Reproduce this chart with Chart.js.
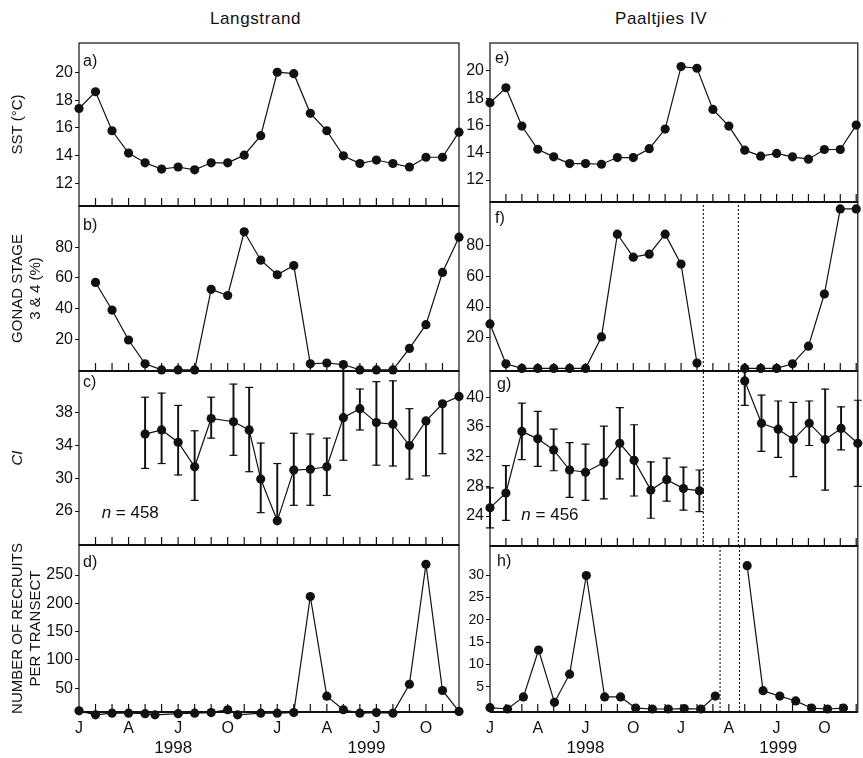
<!DOCTYPE html>
<html>
<head>
<meta charset="utf-8">
<script src="https://cdn.jsdelivr.net/npm/chart.js@4.4.1/dist/chart.umd.min.js"></script>
<style>
  body { margin: 0; background: #fff; width: 863px; height: 758px; overflow: hidden; position: relative;
         font-family: "Liberation Sans", Arial, Helvetica, sans-serif; color: #111; }
  .col-title { position: absolute; top: 9px; font-size: 17px; letter-spacing: 0.6px; }
  canvas { position: absolute; top: 0; }
  #left { left: 0; }
  #right { left: 440px; }
</style>
</head>
<body>
<div class="col-title" style="left:210px">Langstrand</div>
<div class="col-title" style="left:615px">Paaltjies IV</div>
<canvas id="left" width="470" height="758"></canvas>
<canvas id="right" width="423" height="758"></canvas>
<script>
Chart.defaults.font.family = '"Liberation Sans", Arial, Helvetica, sans-serif';
Chart.defaults.color = '#111';

// month index: 0 = Jan 1998 ... 23 = Dec 1999
const months = [0, 1, 2, 3, 4, 5, 6, 7, 8, 9, 10, 11, 12, 13, 14, 15, 16, 17, 18, 19, 20, 21, 22, 23];
const monthTickPos = [0, 3, 6, 9, 12, 15, 18, 21];
const monthTickLabels = ['J', 'A', 'J', 'O', 'J', 'A', 'J', 'O'];
const yearLabels = ['1998', '1999'];
const yearPosL = [5.7, 17.4];
const yearPosR = [6.0, 18.1];

const sstTicks = [12, 14, 16, 18, 20];
const gonadTicks = [20, 40, 60, 80];
const ciTicksL = [26, 30, 34, 38];
const ciTicksR = [24, 28, 32, 36, 40];
const recTicksL = [50, 100, 150, 200, 250];
const recTicksR = [5, 10, 15, 20, 25, 30];

// Langstrand
const sstL = [17.4, 18.6, 15.8, 14.2, 13.5, 13.05, 13.2, 13.0, 13.5, 13.5, 14.05, 15.45,
              20.0, 19.9, 17.05, 15.8, 14.0, 13.45, 13.7, 13.45, 13.2, 13.9, 13.9, 15.7];
const gonadL = [null, 57, 39, 19.5, 4, 0, 0, 0, 52.5, 48.5, 90, 71.5,
                62, 68, 4, 4.5, 3.5, 0, 0, 0, 14, 29.5, 63.5, 86.5];
const ciLx = [4, 5, 6, 7, 8, 9.35, 10.3, 11, 12, 13, 14, 15, 16, 17, 18, 19, 20, 21, 22, 23];
const ciL = [35.4, 35.9, 34.4, 31.4, 37.3, 36.9, 35.9, 29.9, 24.8, 31.0, 31.1, 31.4,
             37.4, 38.5, 36.8, 36.6, 34.0, 37.0, 39.1, 40.0];
const ciLlo = [4.2, 4.1, 4.0, 4.1, 2.4, 4.1, 5.1, 4.1, 0, 4.3, 4.4, 3.5, 5.2, 2.6, 5.2, 5.1, 4.1, 6.7, 6.1, 0];
const ciLhi = [4.5, 4.5, 4.5, 4.4, 2.6, 4.6, 5.2, 4.4, 7.0, 4.5, 4.3, 3.5, 6.2, 2.4, 5.0, 5.3, 4.5, 0, 0, 0];
const recLx = [0, 1, 2, 3, 4, 4.6, 6, 7, 8, 9, 9.6, 11, 12, 13, 14, 15, 16, 17, 18, 19, 20, 21, 22, 23];
const recL = [10, 3, 6, 6, 5, 3, 5, 6, 7, 12, 3, 6, 6, 7, 212, 36, 12, 6, 7, 6, 57, 269, 46, 9];

// Paaltjies IV
const sstR = [17.67, 18.77, 15.96, 14.26, 13.7, 13.21, 13.21, 13.16, 13.65, 13.65, 14.3, 15.74,
              20.32, 20.2, 17.18, 15.96, 14.19, 13.75, 13.95, 13.7, 13.53, 14.24, 14.24, 16.03];
const gonadR = [29, 3, 0, 0, 0, 0, 0, 20.5, 87.5, 72.5, 74.5, 87.5,
                68, 3.5, null, null, 0, 0, 0, 3, 14.5, 48.5, 104, 104];
const ciRx = [0, 1, 2, 3, 4, 5, 6, 7.15, 8.15, 9.05, 10.1, 11.1, 12.15, 13.15, 14.5,
              16, 17.05, 18.1, 19.05, 20.05, 21.05, 22.05, 23.1];
const ciR = [25.1, 27.1, 35.4, 34.4, 32.9, 30.2, 29.9, 31.2, 33.8, 31.5, 27.5, 28.9, 27.7, 27.4, null,
             42.2, 36.5, 35.7, 34.3, 36.5, 34.3, 35.8, 33.8];
const ciRerr = [2.7, 3.7, 3.8, 3.7, 2.8, 3.7, 3.8, 4.9, 4.8, 4.8, 3.8, 2.9, 2.9, 2.8, 0,
                3.3, 3.8, 3.8, 5.0, 3.0, 6.8, 2.9, 5.8];
const recRx = [0, 1.1, 2.1, 3.05, 4.05, 5.0, 6.05, 7.2, 8.2, 9.15, 10.2, 11.2, 12.2, 13.25, 14.15,
               15.2, 16.15, 17.15, 18.2, 19.2, 20.2, 21.2, 22.2];
const recR = [0.3, 0, 2.7, 13.2, 1.5, 7.8, 29.9, 2.7, 2.7, 0.2, 0, 0, 0.1, 0, 2.9,
              null, 32.1, 4.1, 2.9, 1.8, 0.2, 0, 0.2];
const gapFG = [13.4, 15.6];
const gapH = [14.45, 15.67];

const INK = '#111';

function lineSet(xs, ys, axis) {
  return {
    type: 'line', xAxisID: 'x', yAxisID: axis,
    data: xs.map((x, i) => ({x: x, y: ys[i]})),
    borderColor: INK, borderWidth: 1.2, tension: 0, spanGaps: false,
    pointRadius: 4.6, pointBackgroundColor: INK, pointBorderWidth: 0,
    clip: 8, order: 1
  };
}

function errSets(xs, ys, lo, hi, axis) {
  const bars = [], caps = [];
  xs.forEach((x, i) => {
    if (ys[i] == null || lo[i] + hi[i] === 0) return;
    bars.push({x: x, y: [ys[i] - lo[i], ys[i] + hi[i]]});
    if (lo[i] > 0) caps.push({x: x, y: ys[i] - lo[i]});
    if (hi[i] > 0) caps.push({x: x, y: ys[i] + hi[i]});
  });
  return [
    {type: 'bar', xAxisID: 'x', yAxisID: axis, data: bars, backgroundColor: INK,
     barThickness: 1.3, grouped: false, clip: 8, order: 2},
    {type: 'scatter', xAxisID: 'x', yAxisID: axis, data: caps, showLine: false,
     pointStyle: 'line', pointRadius: 4, pointBorderColor: INK, pointBorderWidth: 1.2, clip: 8, order: 2}
  ];
}

function gapLine(xv, axis, range) {
  return {
    type: 'line', xAxisID: 'x', yAxisID: axis,
    data: [{x: xv, y: range[0]}, {x: xv, y: range[1]}],
    borderColor: INK, borderWidth: 1.1, borderDash: [2, 2], pointRadius: 0, order: 3
  };
}

function xAxis(max, pos, labels, weight, height, pad, size) {
  return {
    type: 'linear', position: 'bottom', min: 0, max: max, weight: weight, offset: false,
    afterBuildTicks: s => { s.ticks = pos.map(v => ({value: v})); },
    afterFit: s => { s.height = height; },
    grid: {display: false, drawTicks: false}, border: {display: false},
    ticks: {autoSkip: false, maxRotation: 0, padding: pad, color: INK, font: {size: size},
            callback: (v, i) => labels[i]}
  };
}

function yAxis(o) {
  const ax = {
    type: 'linear', position: 'left', stack: 'col', stackWeight: o.h, weight: o.w,
    min: o.range[0], max: o.range[1], beginAtZero: false,
    afterBuildTicks: s => { s.ticks = o.ticks.map(v => ({value: v})); },
    afterFit: s => { s.width = o.width; },
    grid: {drawOnChartArea: false, drawTicks: true, tickLength: 4, color: INK, lineWidth: 1},
    border: {display: false},
    ticks: {autoSkip: false, padding: 2, color: INK, font: {size: o.size || 16}}
  };
  if (o.title) {
    ax.title = {display: true, text: o.title, color: INK, padding: {top: 9, bottom: 0},
                font: {size: 15, style: o.italic ? 'italic' : 'normal', lineHeight: 1.2}};
  }
  return ax;
}

function makeFrames(cfg) {
  return {
    id: 'panelFrames',
    beforeDatasetsDraw(chart) {
      const ctx = chart.ctx, x = chart.scales.x;
      ctx.save();
      ctx.strokeStyle = INK;
      cfg.panels.forEach(p => {
        const y = chart.scales[p.axis];
        ctx.lineWidth = 1.2;
        ctx.strokeRect(x.left, y.top, x.right - x.left, y.bottom - y.top);
        ctx.lineWidth = 1.8;
        ctx.beginPath();
        ctx.moveTo(x.left, y.bottom);
        ctx.lineTo(x.right, y.bottom);
        ctx.stroke();
        ctx.lineWidth = 1.2;
        ctx.beginPath();
        for (let m = 1; m <= cfg.lastMonth; m++) {
          const px = x.getPixelForValue(m);
          ctx.moveTo(px, y.bottom);
          ctx.lineTo(px, y.bottom - 8);
        }
        ctx.stroke();
      });
      ctx.restore();
    },
    afterDatasetsDraw(chart) {
      const ctx = chart.ctx, x = chart.scales.x;
      const fam = Chart.defaults.font.family;
      ctx.save();
      ctx.fillStyle = INK;
      ctx.textBaseline = 'alphabetic';
      cfg.panels.forEach(p => {
        const y = chart.scales[p.axis];
        ctx.font = '16px ' + fam;
        ctx.fillText(p.letter, x.left + p.dx, y.top + p.base);
      });
      cfg.notes.forEach(n => {
        const y = chart.scales[n.axis];
        const px = x.getPixelForValue(n.x), py = y.getPixelForValue(n.y);
        ctx.font = 'italic 17px ' + fam;
        ctx.fillText('n', px, py);
        const w = ctx.measureText('n').width;
        ctx.font = '17px ' + fam;
        ctx.fillText(' = ' + n.text, px + w, py);
      });
      ctx.restore();
    }
  };
}

const rangeA = [10.4, 22.1], rangeB = [-0.7, 106.8], rangeC = [21.85, 43.1], rangeD = [8, 303];
const rangeE = [10.39, 22.05], rangeF = [-1.7, 108.5], rangeG = [19.96, 43.54], rangeH = [-0.67, 36.5];

const baseOptions = (padRight) => ({
  responsive: false, animation: false, events: [],
  layout: {padding: {top: 43, right: padRight, bottom: 0, left: 0}},
  plugins: {legend: {display: false}, tooltip: {enabled: false}}
});

const leftOpts = baseOptions(11);
leftOpts.scales = {
  x: xAxis(23, monthTickPos, monthTickLabels, 0, 24, 7, 16),
  x2: xAxis(23, yearPosL, yearLabels, 1, 22, 2, 17),
  ya: yAxis({range: rangeA, ticks: sstTicks, w: 4, h: 163, width: 79, title: 'SST (°C)'}),
  yb: yAxis({range: rangeB, ticks: gonadTicks, w: 3, h: 165, width: 79, title: ['GONAD STAGE', '3 & 4 (%)']}),
  yc: yAxis({range: rangeC, ticks: ciTicksL, w: 2, h: 174, width: 79, title: 'CI', italic: true}),
  yd: yAxis({range: rangeD, ticks: recTicksL, w: 1, h: 167, width: 79, title: ['NUMBER OF RECRUITS', 'PER TRANSECT']})
};

new Chart(document.getElementById('left'), {
  type: 'line',
  data: {
    datasets: [
      lineSet(months, sstL, 'ya'),
      lineSet(months, gonadL, 'yb'),
      ...errSets(ciLx, ciL, ciLlo, ciLhi, 'yc'),
      lineSet(ciLx, ciL, 'yc'),
      lineSet(recLx, recL, 'yd')
    ]
  },
  options: leftOpts,
  plugins: [makeFrames({
    lastMonth: 22,
    panels: [
      {axis: 'ya', letter: 'a)', dx: 4, base: 23},
      {axis: 'yb', letter: 'b)', dx: 4, base: 24},
      {axis: 'yc', letter: 'c)', dx: 4, base: 16},
      {axis: 'yd', letter: 'd)', dx: 4, base: 22}
    ],
    notes: [{axis: 'yc', x: 1.37, y: 25.2, text: '458'}]
  })]
});

const rightOpts = baseOptions(1);
rightOpts.scales = {
  x: xAxis(23.1, monthTickPos, monthTickLabels, 0, 24, 7, 16),
  x2: xAxis(23.1, yearPosR, yearLabels, 1, 22, 2, 17),
  ye: yAxis({range: rangeE, ticks: sstTicks, w: 4, h: 159, width: 50}),
  yf: yAxis({range: rangeF, ticks: gonadTicks, w: 3, h: 169, width: 50}),
  yg: yAxis({range: rangeG, ticks: ciTicksR, w: 2, h: 175, width: 50}),
  yh: yAxis({range: rangeH, ticks: recTicksR, w: 1, h: 166, width: 50, size: 14})
};

new Chart(document.getElementById('right'), {
  type: 'line',
  data: {
    datasets: [
      lineSet(months, sstR, 'ye'),
      lineSet(months, gonadR, 'yf'),
      ...errSets(ciRx, ciR, ciRerr, ciRerr, 'yg'),
      lineSet(ciRx, ciR, 'yg'),
      lineSet(recRx, recR, 'yh'),
      ...gapFG.map(v => gapLine(v, 'yf', rangeF)),
      ...gapFG.map(v => gapLine(v, 'yg', rangeG)),
      ...gapH.map(v => gapLine(v, 'yh', rangeH))
    ]
  },
  options: rightOpts,
  plugins: [makeFrames({
    lastMonth: 23,
    panels: [
      {axis: 'ye', letter: 'e)', dx: 5, base: 20},
      {axis: 'yf', letter: 'f)', dx: 5, base: 21},
      {axis: 'yg', letter: 'g)', dx: 7, base: 18},
      {axis: 'yh', letter: 'h)', dx: 7, base: 20}
    ],
    notes: [{axis: 'yg', x: 1.97, y: 23.46, text: '456'}]
  })]
});
</script>
</body>
</html>
